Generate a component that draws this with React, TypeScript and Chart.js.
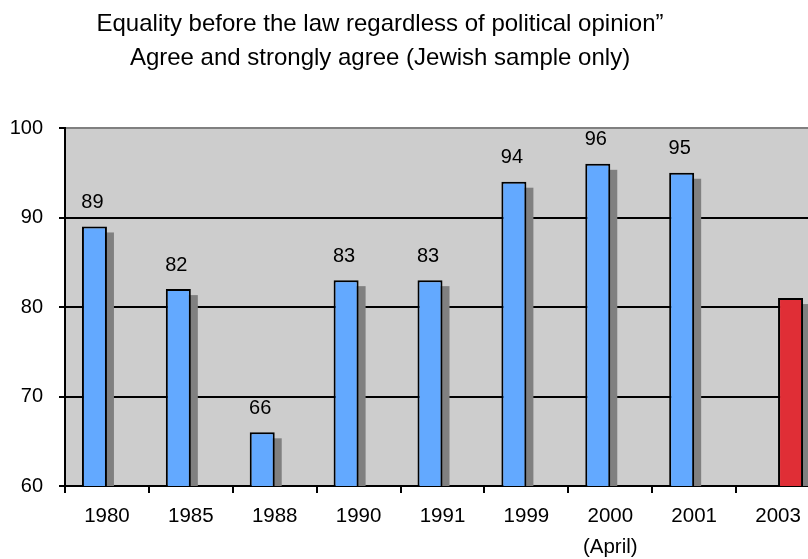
import React, { useEffect, useRef } from 'react';
import { Chart, registerables } from 'chart.js';

Chart.register(...registerables);

// Survey years (the 2000 wave is split over two lines)
const categories: (string | string[])[] = [
  '1980', '1985', '1988', '1990', '1991', '1999', ['2000', '(April)'], '2001', '2003',
];
// Share who agree / strongly agree, earlier waves
const agreeValues: (number | null)[] = [89, 82, 66, 83, 83, 94, 96, 95, null];
// Latest wave, highlighted
const latestValues: (number | null)[] = [null, null, null, null, null, null, null, null, 81];

const yMin = 60;
const yMax = 100;
const yStep = 10;

const titleLines = [
  'Equality before the law regardless of political opinion\u201d',
  'Agree and strongly agree (Jewish sample only)',
];

const FONT = '"Liberation Sans", Arial, Helvetica, sans-serif';
const PLOT_BG = '#cdcdcd';
const SHADOW = '#808080';

const plotBackground = {
  id: 'plotBackground',
  beforeDraw(chart: any) {
    const { ctx, chartArea } = chart;
    ctx.save();
    ctx.fillStyle = PLOT_BG;
    ctx.fillRect(chartArea.left, chartArea.top, chartArea.right - chartArea.left, chartArea.bottom - chartArea.top);
    ctx.restore();
  },
};

const barShadows = {
  id: 'barShadows',
  beforeDatasetsDraw(chart: any) {
    const { ctx, chartArea } = chart;
    ctx.save();
    ctx.beginPath();
    ctx.rect(chartArea.left, chartArea.top, chartArea.right - chartArea.left, chartArea.bottom - chartArea.top);
    ctx.clip();
    ctx.fillStyle = SHADOW;
    chart.data.datasets.forEach((ds: any, di: number) => {
      const meta = chart.getDatasetMeta(di);
      meta.data.forEach((bar: any, i: number) => {
        if (ds.data[i] == null) return;
        const { x, y, base, width } = bar.getProps(['x', 'y', 'base', 'width'], true);
        ctx.fillRect(x - width / 2 + 7, y + 6, width, base - y - 6);
      });
    });
    ctx.restore();
  },
};

const valueLabels = {
  id: 'valueLabels',
  afterDatasetsDraw(chart: any) {
    const { ctx } = chart;
    const ds = chart.data.datasets[0];
    const meta = chart.getDatasetMeta(0);
    ctx.save();
    ctx.font = `20px ${FONT}`;
    ctx.fillStyle = '#000';
    ctx.textAlign = 'center';
    ctx.textBaseline = 'middle';
    meta.data.forEach((bar: any, i: number) => {
      const v = ds.data[i];
      if (v == null) return;
      const { x, y } = bar.getProps(['x', 'y'], true);
      ctx.fillText(String(v), x - 2, y - 24);
    });
    ctx.restore();
  },
};

const titleText = {
  id: 'titleText',
  afterDraw(chart: any) {
    const { ctx } = chart;
    ctx.save();
    ctx.font = `24px ${FONT}`;
    ctx.fillStyle = '#000';
    ctx.textAlign = 'center';
    ctx.textBaseline = 'middle';
    ctx.fillText(titleLines[0], 380, 24);
    ctx.fillText(titleLines[1], 380, 58);
    ctx.restore();
  },
};

export default function App() {
  const canvasRef = useRef<HTMLCanvasElement | null>(null);

  useEffect(() => {
    const canvas = canvasRef.current;
    if (!canvas) return;
    const chart = new Chart(canvas, {
      type: 'bar',
      data: {
        labels: categories,
        datasets: [
          {
            data: agreeValues,
            backgroundColor: '#63a9ff',
            borderColor: '#000',
            borderWidth: 2,
            borderSkipped: false,
            categoryPercentage: 0.596,
            barPercentage: 1,
          },
          {
            data: latestValues,
            backgroundColor: '#e02e36',
            borderColor: '#000',
            borderWidth: 2,
            borderSkipped: false,
            categoryPercentage: 0.596,
            barPercentage: 1,
          },
        ],
      },
      options: {
        responsive: false,
        animation: false,
        devicePixelRatio: 1,
        layout: { padding: { left: 0, top: 128, right: 20, bottom: 0 } },
        plugins: {
          legend: { display: false },
          tooltip: { enabled: false },
          title: { display: false },
        },
        scales: {
          x: {
            offset: true,
            grid: {
              offset: true,
              drawOnChartArea: false,
              drawTicks: true,
              tickLength: 7,
              color: '#000',
              lineWidth: 2,
            },
            border: { display: true, color: '#000', width: 2 },
            ticks: {
              color: '#000',
              padding: 8,
              maxRotation: 0,
              autoSkip: false,
              font: { family: FONT, size: 20.5, lineHeight: 1.52 },
            },
            afterFit(scale: any) {
              scale.height = 73;
            },
          },
          y: {
            min: yMin,
            max: yMax,
            ticks: {
              stepSize: yStep,
              color: '#000',
              padding: 16,
              font: { family: FONT, size: 20 },
            },
            grid: {
              color: (ctx: any) => (ctx.tick && ctx.tick.value === yMax ? SHADOW : '#000'),
              tickColor: '#000',
              lineWidth: 2,
              tickLength: 6,
              drawTicks: true,
            },
            border: { display: true, color: '#000', width: 2 },
            afterFit(scale: any) {
              scale.width = 65;
            },
          },
        },
      },
      plugins: [plotBackground, barShadows, valueLabels, titleText],
    });
    return () => chart.destroy();
  }, []);

  return (
    <div
      style={{
        position: 'fixed',
        left: 0,
        top: 0,
        width: 808,
        height: 559,
        overflow: 'hidden',
        background: '#fff',
      }}
    >
      <canvas ref={canvasRef} width={840} height={559} style={{ display: 'block', width: 840, height: 559 }} />
    </div>
  );
}
